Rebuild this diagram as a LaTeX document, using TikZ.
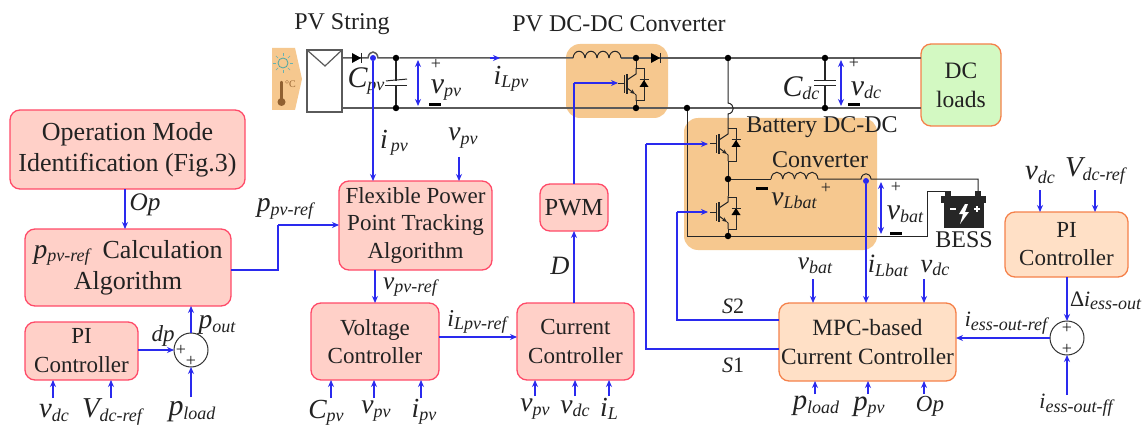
\documentclass[tikz,border=0pt]{standalone}
\usepackage{fontspec}
\setmainfont{Liberation Serif}
\usetikzlibrary{arrows.meta}
\definecolor{bluew}{HTML}{2A2AEE}
\definecolor{wireg}{HTML}{5A5A5A}
\definecolor{redf}{HTML}{FFD0C8}
\definecolor{redd}{HTML}{FF4A68}
\definecolor{orf}{HTML}{FFE0C6}
\definecolor{ord}{HTML}{F5814A}
\definecolor{grf}{HTML}{D3F9C2}
\definecolor{shadec}{HTML}{F6C88F}
\definecolor{txt}{HTML}{222222}
\newcommand\lbl[3][23]{\pgfmathsetmacro\lblsz{#1*1.15}{\fontsize{\lblsz}{\lblsz}\selectfont\itshape #2}\raisebox{-3.5pt}{\fontsize{18}{18}\selectfont\itshape #3}}
\newcommand\mybox[7]{\node[#2,minimum width={(#5)-(#3)},minimum height={(#6)-(#4)}] (#1) at ({((#3)+(#5))/2},{((#4)+(#6))/2}) {#7};}
\newcommand\coil[3]{% x1 x2 y, 4 humps
 \pgfmathsetmacro\st{((#2)-(#1))/4}
 \foreach \k in {0,1,2,3}{
  \pgfmathsetmacro\xa{(#1)+\k*\st}\pgfmathsetmacro\xb{\xa+\st}
  \draw[thinw] (\xa,#3) .. controls (\xa+1,#3-9) and (\xb-1,#3-9) .. (\xb,#3);}}
\newcommand\igbt[2]{% collector column x, centre y
 \draw[thinw] (#1-12,#2-9) -- (#1-12,#2+9);
 \draw[thinw,line width=1.3pt] (#1-9,#2-10) -- (#1-9,#2+10);
 \draw[thinw] (#1,#2-16) -- (#1,#2-10) -- (#1-9,#2-4);
 \draw[thinw,-{Stealth[length=5pt,width=4pt]}] (#1-9,#2+4) -- (#1-1,#2+10);
 \draw[thinw] (#1-1,#2+10) -- (#1,#2+11) -- (#1,#2+17);
 \draw[thinw] (#1,#2-15) -- (#1+8,#2-15) -- (#1+8,#2+17) -- (#1,#2+17);
 \fill[black] (#1+3.5,#2+3) -- (#1+12.5,#2+3) -- (#1+8,#2-4) -- cycle;
 \draw[thinw] (#1+3.5,#2-4) -- (#1+12.5,#2-4);
 \draw[thinw] (#1-18,#2) -- (#1-12,#2);}
\tikzset{
 every node/.style={text=txt,inner sep=0pt,outer sep=0pt},
 redbox/.style={draw=redd,fill=redf,line width=1.3pt,rounded corners=10pt,align=center,font=\fontsize{23}{31}\selectfont},
 orbox/.style={draw=ord,fill=orf,line width=1.3pt,rounded corners=10pt,align=center,font=\fontsize{23}{31}\selectfont},
 grbox/.style={draw=ord,fill=grf,line width=1.3pt,rounded corners=10pt,align=center,font=\fontsize{23.5}{29}\selectfont},
 shadebox/.style={fill=shadec,rounded corners=14pt},
 arrw/.style={draw=bluew,line width=1.2pt,-{Stealth[length=7pt,width=6pt]}},
 bline/.style={draw=bluew,line width=1.2pt},
 biarr/.style={draw=bluew,line width=1.2pt,{Stealth[length=7pt,width=6pt]}-{Stealth[length=7pt,width=6pt]}},
 wire/.style={draw=wireg,line width=1.5pt},
 thinw/.style={draw=black!85,line width=1pt},
 dot/.style={circle,fill=black,minimum size=6.5pt},
 bdot/.style={circle,fill=bluew,minimum size=6pt},
 sumc/.style={circle,draw=black!80,line width=1pt,minimum size=34pt},
 ttl/.style={font=\fontsize{24}{26}\selectfont},
 pm/.style={font=\fontsize{18}{18}\selectfont},
 barm/.style={fill=black,minimum width=12pt,minimum height=3pt},
}
\begin{document}
\begin{tikzpicture}[x=1pt,y=-1pt]
\useasboundingbox (0,0) rectangle (1143,425);
\fill[white] (0,0) rectangle (1143,425);
% shaded regions
\mybox{sh1}{shadebox}{566}{44}{668}{118}{}
\mybox{sh2}{shadebox}{684}{118}{877}{250}{}
% titles
\node[ttl] (t1) at (342,24) {PV String};
\node[ttl] (t2) at (619,24) {PV DC-DC Converter};
\node[ttl] (t3) at (822,127) {Battery DC-DC};
\node[ttl] (t4) at (820,160) {Converter};
% irradiance icon
\fill[shadec] (272,48) -- (295,48) -- (302,79) -- (295,110) -- (272,110) -- cycle;
\draw[teal!70,line width=0.8pt] (283,63) circle (5);
\foreach \a in {0,45,...,315}{\draw[teal!60,line width=0.7pt] (283,63) ++(\a:7) -- ++(\a:3);}
\fill[brown!75!black] (281.5,102) circle (4);
\draw[brown!75!black,line width=2.4pt,line cap=round] (281.5,82) -- (281.5,100);
\node[font=\fontsize{10}{10}\selectfont,text=brown!80!black] (deg) at (290.5,84) {°C};
% PV panel
\mybox{pv}{draw=wireg,line width=1.5pt,fill=white}{307}{50}{342}{112}{}
\draw[wire,line width=1.2pt] (pv.north west) -- (325,66) -- (pv.north east);
% junctions
\node[dot] (a1) at (396,58) {};
\node[dot] (a2) at (396,108) {};
\node[dot] (b1) at (636,58) {};
\node[dot] (b2) at (636,108) {};
\node[dot] (c1) at (728,58) {};
\node[dot] (c2) at (687,108) {};
\node[dot] (d1) at (825,58) {};
\node[dot] (d2) at (825,108) {};
\mybox{dcl}{grbox}{921}{44}{1001}{126}{DC\\loads}
\node[dot] (e1) at (728,179) {};
\node[dot] (e2) at (728,236) {};
\node[bdot] (h1) at (373,58) {};
\node[bdot] (h2) at (866,181) {};
% buses
\draw[wire] (pv.east |- a1) -- (368,58) .. controls (369,50) and (377,50) .. (378,58) -- (a1) -- (573,58);
\draw[wire] (621,58) -- (b1) -- (c1) -- (d1) -- (dcl.west |- d1);
\draw[wire] (pv.east |- a2) -- (a2) -- (b2) -- (c2) -- (d2) -- (dcl.west |- d2);
% PV diode
\fill[black] (352,53) -- (352,63) -- (361,58) -- cycle;
\draw[thinw] (361,53) -- (361,63);
% Cpv, Cdc
\draw[thinw,line width=1.3pt] (a1) -- (396,81);
\draw[thinw,line width=1.3pt] (396,86) -- (a2);
\draw[thinw] (386,81) .. controls (393,80) and (399,80) .. (407,79);
\draw[thinw] (385,86) -- (407,86);
\draw[thinw,line width=1.3pt] (d1) -- (825,81);
\draw[thinw,line width=1.3pt] (825,86) -- (d2);
\draw[thinw] (814,81) -- (836,81);
\draw[thinw] (814,86) -- (836,86);
% PV converter
\coil{573}{621}{58}
\fill[black] (651,53) -- (651,63) -- (660,58) -- cycle;
\draw[thinw] (660,53) -- (660,63);
\igbt{636}{84}
\draw[thinw] (b1) -- (636,68);
\draw[thinw] (636,101) -- (b2);
% battery converter
\igbt{728}{144}
\igbt{728}{212}
\draw[thinw] (c1) -- (728,103) .. controls (735,104) and (735,113) .. (728,114) -- (728,128);
\draw[thinw] (728,161) -- (e1) -- (728,196);
\draw[thinw] (728,229) -- (e2);
\draw[thinw] (c2) -- (687,236) -- (e2);
\coil{771}{818}{179}
\draw[thinw] (e1) -- (771,179);
\draw[thinw] (818,179) -- (861,179) .. controls (862,172) and (870,172) .. (871,179) -- (978,179) -- (978,191);
\draw[thinw] (e2) -- (927,236) -- (927,191) -- (948,191);
% battery
\fill[black!85] (944,197) rectangle (984,228);
\fill[black!85] (941,196) rectangle (986,203);
\fill[black!85] (945,191) rectangle (951,197);
\fill[black!85] (975,191) rectangle (981,197);
\fill[white] (950,208) rectangle (956,210);
\fill[white] (974,208) rectangle (980,210);
\fill[white] (976,206) rectangle (978,212);
\fill[white] (965,204) -- (959,214) -- (963,214) -- (960,224) -- (969,212) -- (965,212) -- (968,204) -- cycle;
\node[font=\fontsize{24}{24}\selectfont] (bess) at (964,240) {BESS};
% voltage markers
\draw[biarr] (418,60) -- (418,106);
\node[pm] (p1) at (436,64) {+};
\node[barm] (m1) at (435,105) {};
\draw[biarr] (841,60) -- (841,106);
\node[pm] (p2) at (854,63) {+};
\node[barm] (m2) at (854,105) {};
\draw[biarr] (881,182) -- (881,234);
\node[pm] (p3) at (896,187) {+};
\node[barm] (m3) at (896,233) {};
\node[barm] (m4) at (762,188) {};
\node[pm] (p4) at (826,188) {+};
% circuit labels
\node (lc1) at (366,81) {\lbl[26]{C}{pv}};
\node (lv1) at (446,90) {\lbl[26]{v}{pv}};
\node (li1) at (511,79) {\lbl[24]{i}{Lpv}};
\node (lc2) at (801,88) {\lbl[26]{C}{dc}};
\node (lv2) at (866,90) {\lbl[26]{v}{dc}};
\node (lv3) at (794,201) {\lbl[24]{v}{Lbat}};
\node (lv4) at (905,214) {\lbl[26]{v}{bat}};
\draw[arrw] (490,58) -- (500,58);
% boxes
\mybox{op}{redbox,font=\fontsize{26}{31}\selectfont}{10}{110}{245}{189}{Operation Mode\\Identification (Fig.3)}
\mybox{calc}{redbox,font=\fontsize{26}{31}\selectfont}{25}{229}{231}{306}{\lbl[24]{p}{pv-ref}\ \ Calculation\\Algorithm}
\mybox{pil}{redbox,font=\fontsize{23}{29}\selectfont}{25}{322}{138}{380}{PI\\Controller}
\node[sumc] (suml) at (191,350) {};
\mybox{flex}{redbox,font=\fontsize{23}{27.5}\selectfont}{339}{181}{492}{270}{Flexible Power\\Point Tracking\\Algorithm}
\mybox{pwm}{redbox,font=\fontsize{24.5}{26}\selectfont}{540}{184}{608}{231}{PWM}
\mybox{volt}{redbox,font=\fontsize{23}{28.5}\selectfont}{311}{303}{439}{380}{Voltage\\Controller}
\mybox{curr}{redbox,font=\fontsize{23}{28.5}\selectfont}{517}{303}{634}{380}{Current\\Controller}
\mybox{mpc}{orbox,font=\fontsize{23.3}{29}\selectfont}{779}{303}{956}{381}{MPC-based\\Current Controller}
\mybox{pir}{orbox,font=\fontsize{23}{28}\selectfont}{1005}{212}{1128}{277}{PI\\Controller}
\node[sumc] (sumr) at (1067,338) {};
% sum signs
\node[pm] (s1) at (181,350) {+};
\node[pm] (s2) at (191,361) {+};
\node[pm] (s3) at (1067,328) {+};
\node[pm] (s4) at (1067,349) {+};
% left side
\node (lop) at (145,205) {\lbl[22]{Op}{}};
\draw[arrw] (op.south -| 125,0) -- (calc.north -| 125,0);
\coordinate (l1) at (278,270);
\draw[bline] (l1 -| calc.east) -- (l1) -- (278,225);
\draw[arrw] (278,225) -- (flex.west |- 278,225);
\node (lpref) at (285,209) {\lbl[24]{p}{pv-ref}};
\draw[arrw] (pil.east |- suml) -- (suml.west);
\node (ldp) at (163,336) {\lbl[20]{dp}{}};
\draw[arrw] (suml.north) -- (suml.north |- calc.south);
\node (lpo) at (217,325) {\lbl[24]{p}{out}};
\coordinate (f1) at (53,398);
\coordinate (f2) at (111,398);
\coordinate (f3) at (191,397);
\draw[arrw] (f1) -- (f1 |- pil.south);
\draw[arrw] (f2) -- (f2 |- pil.south);
\draw[arrw] (f3) -- (suml.south);
\node (lf1) at (54,413) {\lbl[25]{v}{dc}};
\node (lf2) at (112,412) {\lbl[25]{V}{dc-ref}};
\node (lf3) at (192,412) {\lbl[26]{p}{load}};
% centre
\draw[arrw] (h1) -- (h1 |- flex.north);
\node (lip) at (394,143) {\lbl[24]{i}{\,pv}};
\coordinate (g1) at (459,157);
\draw[arrw] (g1) -- (g1 |- flex.north);
\node (lv5) at (463,138) {\lbl[24]{v}{pv}};
\draw[arrw] (375,270) -- (375,303);
\node (lv6) at (410,287) {\lbl[22]{v}{pv-ref}};
\coordinate (vc) at (439,337);
\draw[arrw] (vc -| volt.east) -- (vc -| curr.west);
\node (li2) at (477,322) {\lbl[21]{i}{Lpv-ref}};
\draw[arrw] (curr.north -| pwm.south) -- (pwm.south);
\node (ld) at (560,268) {\lbl[23]{D}{}};
\coordinate (q1) at (574,83);
\draw[bline] (pwm.north -| q1) -- (q1);
\draw[arrw] (q1) -- (618,83);
\coordinate (g2) at (331,398);
\coordinate (g3) at (374,398);
\coordinate (g4) at (421,398);
\draw[arrw] (g2) -- (g2 |- volt.south);
\draw[arrw] (g3) -- (g3 |- volt.south);
\draw[arrw] (g4) -- (g4 |- volt.south);
\node (lg2) at (326,413) {\lbl[24]{C}{pv}};
\node (lg3) at (376,411) {\lbl[24]{v}{pv}};
\node (lg4) at (424,412) {\lbl[24]{i}{pv}};
\coordinate (g5) at (535,396);
\coordinate (g6) at (575,396);
\coordinate (g7) at (609,396);
\draw[arrw] (g5) -- (g5 |- curr.south);
\draw[arrw] (g6) -- (g6 |- curr.south);
\draw[arrw] (g7) -- (g7 |- curr.south);
\node (lg5) at (535,409) {\lbl[24]{v}{pv}};
\node (lg6) at (575,409) {\lbl[24]{v}{dc}};
\node (lg7) at (609,409) {\lbl[24]{i}{L}};
% S1 S2
\coordinate (s1a) at (646,349);
\coordinate (s1b) at (646,144);
\draw[bline] (mpc.west |- s1a) -- (s1a) -- (s1b);
\draw[arrw] (s1b) -- (708,144);
\coordinate (s2a) at (677,320);
\coordinate (s2b) at (677,212);
\draw[bline] (mpc.west |- s2a) -- (s2a) -- (s2b);
\draw[arrw] (s2b) -- (708,212);
\node[font=\fontsize{22}{22}\selectfont] (ls2) at (733,306) {\textit{S}2};
\node[font=\fontsize{22}{22}\selectfont] (ls1) at (733,365) {\textit{S}1};
% MPC inputs
\draw[arrw] (h2) -- (h2 |- mpc.north);
\coordinate (m1c) at (813,279);
\coordinate (m2c) at (924,279);
\draw[arrw] (m1c) -- (m1c |- mpc.north);
\draw[arrw] (m2c) -- (m2c |- mpc.north);
\node (lm1) at (815,266) {\lbl[22]{v}{bat}};
\node (lm2) at (888,266) {\lbl[23]{i}{Lbat}};
\node (lm3) at (935,268) {\lbl[23]{v}{dc}};
\coordinate (m3c) at (815,394);
\coordinate (m4c) at (868,394);
\coordinate (m5c) at (924,394);
\draw[arrw] (m3c) -- (m3c |- mpc.south);
\draw[arrw] (m4c) -- (m4c |- mpc.south);
\draw[arrw] (m5c) -- (m5c |- mpc.south);
\node (lm4) at (816,406) {\lbl[25]{p}{load}};
\node (lm5) at (869,407) {\lbl[25]{p}{pv}};
\node (lm6) at (930,406) {\lbl[20]{Op}{}};
% right
\coordinate (r1) at (1040,190);
\coordinate (r2) at (1095,190);
\draw[arrw] (r1) -- (r1 |- pir.north);
\draw[arrw] (r2) -- (r2 |- pir.north);
\node (lr1) at (1040,175) {\lbl[25]{v}{dc}};
\node (lr2) at (1095,171) {\lbl[25]{V}{dc-ref}};
\draw[arrw] (sumr.north |- pir.south) -- (sumr.north);
\node[anchor=west] (lr3) at (1070,301) {{\fontsize{22}{22}\selectfont Δ}\lbl[19]{i}{ess-out}};
\draw[arrw] (sumr.west) -- (mpc.east |- sumr);
\node (lr4) at (1006,323) {\lbl[19]{i}{ess-out-ref}};
\coordinate (r3) at (1067,395);
\draw[arrw] (r3) -- (sumr.south);
\node (lr5) at (1076,405) {\lbl[19]{i}{ess-out-ff}};
\end{tikzpicture}
\end{document}
